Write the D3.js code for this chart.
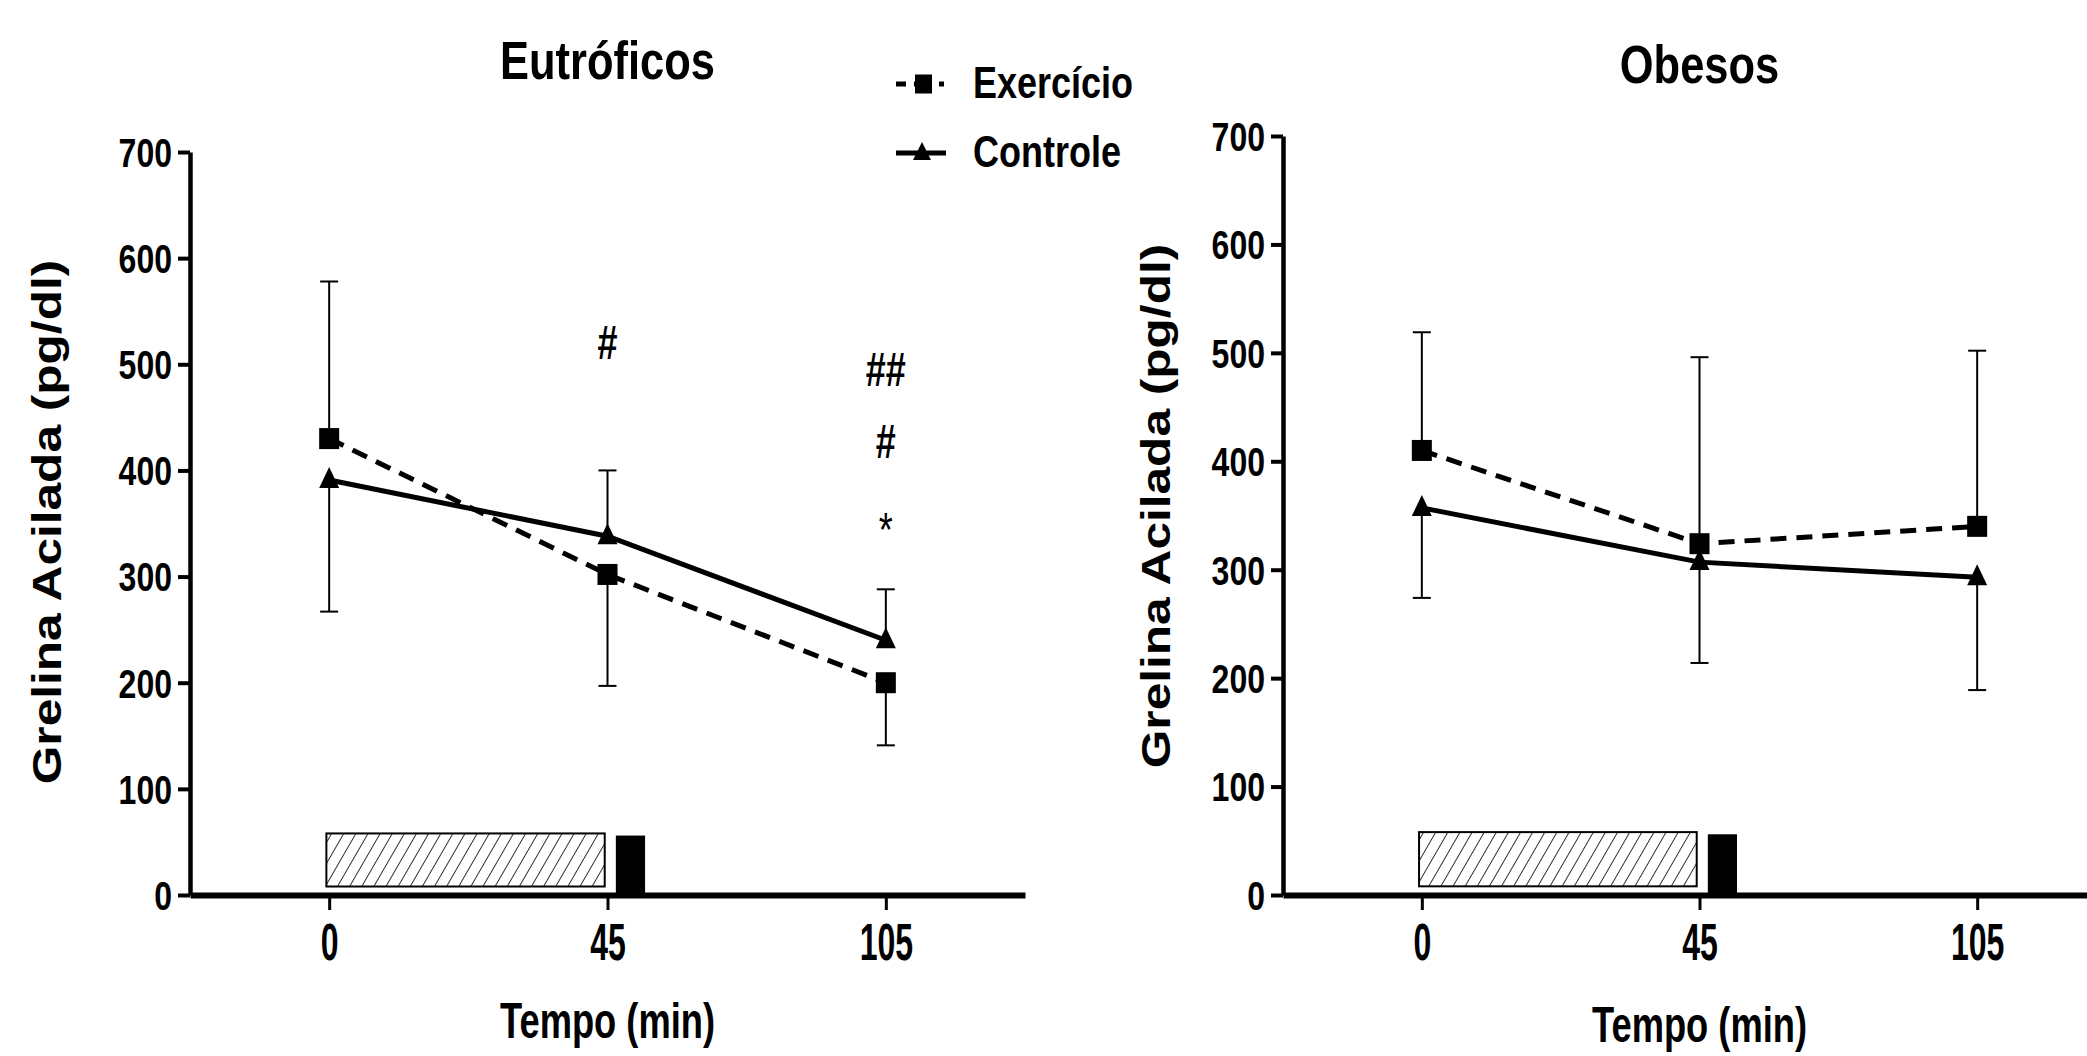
<!DOCTYPE html>
<html>
<head>
<meta charset="utf-8">
<script src="https://cdn.jsdelivr.net/npm/d3@7"></script>
<style>
  body { margin: 0; background: #fff; }
  svg { display: block; }
  text { font-family: "Liberation Sans", Arial, sans-serif; fill: #000; }
</style>
</head>
<body>
<svg id="chart" width="2087" height="1056"></svg>
<script>
var timeLabels = ['0', '45', '105']
  , yTicks = [0, 100, 200, 300, 400, 500, 600, 700]
  , seriesNames = ['Exercício', 'Controle']

// Eutróficos
var eutExercicio = [430, 302, 200]
  , eutExercicioErr = [578, 197, 141]
  , eutControle = [391, 338, 240]
  , eutControleErr = [267, 400, 288]

// Obesos
var obeExercicio = [410, 324, 340]
  , obeExercicioErr = [519, 496, 502]
  , obeControle = [357, 307, 293]
  , obeControleErr = [274, 214, 189]

// significance marks (left panel): time index, y value, text
var eutMarks = [
    {i: 1, v: 520, t: '#'}
  , {i: 2, v: 495, t: '##'}
  , {i: 2, v: 427, t: '#'}
  , {i: 2, v: 354, t: '*'}
]

// exercise (hatched) and meal (black) blocks, in time index / y units
var exerciseBlock = {x0: -0.01, x1: 0.99, y0: 8, y1: 58}
  , mealBlock = {x0: 1.03, x1: 1.135, y0: 0, y1: 56}

var svg = d3.select('#chart')

var defs = svg.append('defs')
defs.append('pattern')
  .attr('id', 'hatch')
  .attr('patternUnits', 'userSpaceOnUse')
  .attr('width', 10.5)
  .attr('height', 10.5)
  .attr('patternTransform', 'rotate(30)')
  .call(function(p) {
    p.append('rect').attr('width', 10.5).attr('height', 10.5).attr('fill', '#fff')
    p.append('line')
      .attr('x1', 0).attr('y1', 0).attr('x2', 0).attr('y2', 10.5)
      .attr('stroke', '#000').attr('stroke-width', 1.6)
  })

function label(g, x, y, str, size, sy, anchor, weight) {
  return g.append('text')
    .attr('transform', 'translate(' + x + ',' + y + ') scale(1,' + sy + ')')
    .attr('text-anchor', anchor || 'middle')
    .attr('font-size', size)
    .attr('font-weight', weight || 'bold')
    .text(str)
}

function panel(opts) {
  var g = svg.append('g')

  var x = d3.scaleLinear().domain([-0.5, 2.5]).range([opts.left, opts.right])
  var y = d3.scaleLinear().domain([0, 700]).range([opts.bottom, opts.top])

  // blocks
  g.append('rect')
    .attr('x', x(exerciseBlock.x0))
    .attr('y', y(exerciseBlock.y1))
    .attr('width', x(exerciseBlock.x1) - x(exerciseBlock.x0))
    .attr('height', y(exerciseBlock.y0) - y(exerciseBlock.y1))
    .attr('fill', 'url(#hatch)')
    .attr('stroke', '#000')
    .attr('stroke-width', 2)

  g.append('rect')
    .attr('x', x(mealBlock.x0))
    .attr('y', y(mealBlock.y1))
    .attr('width', x(mealBlock.x1) - x(mealBlock.x0))
    .attr('height', y(mealBlock.y0) - y(mealBlock.y1))
    .attr('fill', '#000')

  // y axis
  var yAxis = g.append('g')
    .attr('transform', 'translate(' + opts.left + ',0)')
    .call(d3.axisLeft(y).tickValues(yTicks).tickSize(12).tickSizeOuter(0).tickPadding(6))

  yAxis.select('.domain').attr('stroke-width', 4.5)
  yAxis.selectAll('.tick line').attr('stroke-width', 4)
  yAxis.selectAll('.tick text')
    .attr('font-size', 32)
    .attr('font-weight', 'bold')
    .attr('dy', '0.36em')
    .attr('transform', 'scale(1,1.25)')

  // x axis
  var xAxis = g.append('g')
    .attr('transform', 'translate(0,' + opts.bottom + ')')
    .call(d3.axisBottom(x).tickValues([0, 1, 2])
      .tickFormat(function(d) { return timeLabels[d] })
      .tickSize(15).tickSizeOuter(0))

  xAxis.select('.domain').attr('stroke-width', 6)
  xAxis.selectAll('.tick line').attr('stroke-width', 3)
  xAxis.selectAll('.tick text')
    .attr('font-size', 32)
    .attr('font-weight', 'bold')
    .attr('dy', 0)
    .attr('y', 65 / 1.6)
    .attr('transform', 'scale(1,1.6)')

  var series = [
      {vals: opts.exercicio, err: opts.exercicioErr, dash: '16,10', shape: 'square'}
    , {vals: opts.controle, err: opts.controleErr, dash: null, shape: 'triangle'}
  ]

  // error bars
  series.forEach(function(s) {
    var eb = g.append('g').attr('stroke', '#000').attr('stroke-width', 2)
    s.vals.forEach(function(v, i) {
      eb.append('line')
        .attr('x1', x(i)).attr('x2', x(i))
        .attr('y1', y(v)).attr('y2', y(s.err[i]))
      eb.append('line')
        .attr('x1', x(i) - 9).attr('x2', x(i) + 9)
        .attr('y1', y(s.err[i])).attr('y2', y(s.err[i]))
    })
  })

  var line = d3.line()
    .x(function(d, i) { return x(i) })
    .y(function(d) { return y(d) })

  series.forEach(function(s) {
    g.append('path')
      .datum(s.vals)
      .attr('d', line)
      .attr('fill', 'none')
      .attr('stroke', '#000')
      .attr('stroke-width', 5)
      .attr('stroke-dasharray', s.dash)
  })

  series.forEach(function(s) {
    s.vals.forEach(function(v, i) {
      if(s.shape === 'square') {
        g.append('rect')
          .attr('x', x(i) - 10).attr('y', y(v) - 10.5)
          .attr('width', 20).attr('height', 21)
          .attr('fill', '#000')
      } else {
        g.append('path')
          .attr('transform', 'translate(' + x(i) + ',' + y(v) + ')')
          .attr('d', 'M0,-13L10,8L-10,8Z')
          .attr('fill', '#000')
      }
    })
  })

  // marks
  ;(opts.marks || []).forEach(function(m) {
    var cy = y(m.v)
      , base = m.t === '*' ? cy + 27 : cy + 16
    label(g, x(m.i), base, m.t, 36, 1.33, 'middle', m.t === '*' ? 'normal' : 'bold')
  })

  // titles
  label(g, x(1), opts.titleY, opts.title, 43.5, 1.24)
  label(g, x(1), opts.xTitleY, 'Tempo (min)', 36.3, 1.38)

  g.append('text')
    .attr('transform', 'translate(' + opts.yTitleX + ',' + opts.yTitleY + ') rotate(-90) scale(1.24,1)')
    .attr('text-anchor', 'middle')
    .attr('font-size', 40)
    .attr('font-weight', 'bold')
    .text('Grelina Acilada (pg/dl)')
}

panel({
    left: 190, right: 1025, top: 152, bottom: 895
  , exercicio: eutExercicio, exercicioErr: eutExercicioErr
  , controle: eutControle, controleErr: eutControleErr
  , marks: eutMarks
  , title: 'Eutróficos', titleY: 79, xTitleY: 1038
  , yTitleX: 61, yTitleY: 522
})

panel({
    left: 1283, right: 2116, top: 136, bottom: 895
  , exercicio: obeExercicio, exercicioErr: obeExercicioErr
  , controle: obeControle, controleErr: obeControleErr
  , title: 'Obesos', titleY: 83, xTitleY: 1042
  , yTitleX: 1170, yTitleY: 506
})

// legend
var legend = svg.append('g')
  , legendY = [84, 153]

legend.append('line')
  .attr('x1', 896).attr('x2', 946)
  .attr('y1', legendY[0]).attr('y2', legendY[0])
  .attr('stroke', '#000').attr('stroke-width', 5)
  .attr('stroke-dasharray', '10,8,17,8,5,100')
legend.append('rect')
  .attr('x', 915).attr('y', legendY[0] - 9.5)
  .attr('width', 17).attr('height', 19)
  .attr('fill', '#000')

legend.append('line')
  .attr('x1', 896).attr('x2', 946)
  .attr('y1', legendY[1]).attr('y2', legendY[1])
  .attr('stroke', '#000').attr('stroke-width', 5)
legend.append('path')
  .attr('transform', 'translate(922,' + legendY[1] + ')')
  .attr('d', 'M0,-11L9,7L-9,7Z')
  .attr('fill', '#000')

seriesNames.forEach(function(name, i) {
  label(legend, 973, legendY[i] + 14, name, 36, 1.22, 'start')
})
</script>
</body>
</html>
